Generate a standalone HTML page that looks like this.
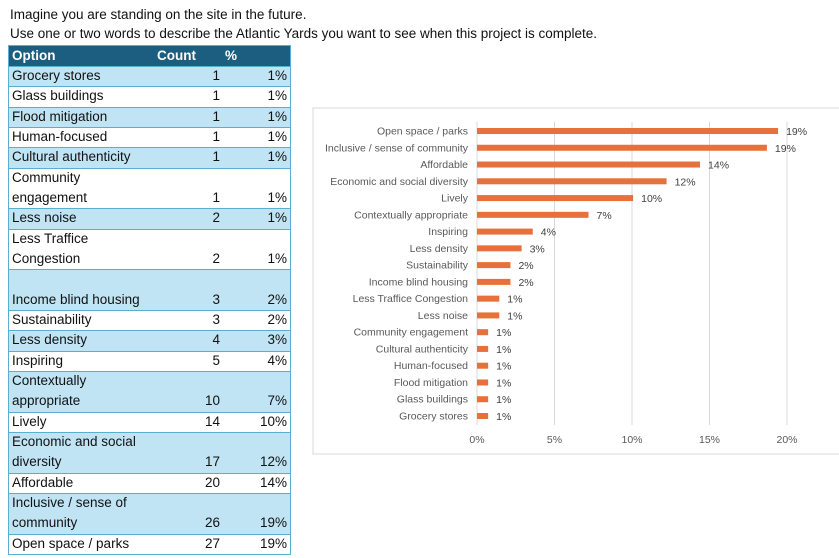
<!DOCTYPE html>
<html><head><meta charset="utf-8">
<style>
body{margin:0;width:839px;height:558px;background:#fff;font-family:"Liberation Sans",sans-serif;position:relative;overflow:hidden}
.t{position:absolute;left:10px;font-size:13.5px;color:#111}
#tbl{position:absolute;left:8px;top:45px;width:283px;border:1px solid #5aaed2;box-sizing:border-box}
.row{position:relative;border-top:1px solid #5aaed2;box-sizing:border-box;font-size:13.5px;color:#111}
.row span{position:absolute;bottom:0;line-height:20.33px}
.hdr{background:#1b5e80;color:#fff;font-weight:bold;height:20px;border-top:none}
.hdr span{line-height:20px}
.b{background:#c0e4f4}.w{background:#fff}
.lab{left:3px}
.cnt{right:70px}.pct{right:3px}
</style></head><body>
<div class="t" style="top:7px">Imagine you are standing on the site in the future.</div>
<div class="t" style="top:26px">Use one or two words to describe the Atlantic Yards you want to see when this project is complete.</div>
<div id="tbl">
<div class="row hdr"><span style="left:3px">Option</span><span style="left:148px">Count</span><span style="left:216px">%</span></div>
</div>
<svg id="chart" style="position:absolute;left:0;top:0" width="839" height="558">
<rect x="313" y="108" width="530" height="346" fill="#fff" stroke="#d9d9d9"/>
</svg>
<script>
const categories=["Grocery stores","Glass buildings","Flood mitigation","Human-focused","Cultural authenticity","Community engagement","Less noise","Less Traffice Congestion","Income blind housing","Sustainability","Less density","Inspiring","Contextually appropriate","Lively","Economic and social diversity","Affordable","Inclusive / sense of community","Open space / parks"];
const tableLabels=[["Grocery stores"],["Glass buildings"],["Flood mitigation"],["Human-focused"],["Cultural authenticity"],["Community","engagement"],["Less noise"],["Less Traffice","Congestion"],["","Income blind housing"],["Sustainability"],["Less density"],["Inspiring"],["Contextually","appropriate"],["Lively"],["Economic and social","diversity"],["Affordable"],["Inclusive / sense of","community"],["Open space / parks"]];
const counts=[1,1,1,1,1,1,2,2,3,3,4,5,10,14,17,20,26,27];
const total=139;
const ticks=[0,5,10,15,20];
const NS="http://www.w3.org/2000/svg";
const tbl=document.getElementById('tbl');
counts.forEach((c,i)=>{
  const lines=tableLabels[i];
  const r=document.createElement('div');
  
  
  r.className='row '+(i%2===0?'b':'w');
  r.style.height=(lines.length*20.33)+'px';
  const l=document.createElement('span');l.className='lab';l.innerHTML=lines.join('<br>');
  
  
  const cc=document.createElement('span');cc.className='cnt';cc.textContent=c;
  
  
  const p=document.createElement('span');p.className='pct';p.textContent=Math.round(c/total*100)+'%';
  
  
  r.append(l,cc,p);tbl.appendChild(r);
});
const svg=document.getElementById('chart');
const x0=477,pxPer=15.5;
const xs=v=>x0+v*pxPer;
const yTop=131,step=(416-131)/17;
const ys=i=>yTop+(categories.length-1-i)*step;
function mk(tag,attrs,txt){const e=document.createElementNS(NS,tag);for(const k in attrs)e.setAttribute(k,attrs[k]);if(txt!==undefined)e.textContent=txt;svg.appendChild(e);return e;}
ticks.forEach(t=>{
  const g=mk('line',{x1:xs(t),x2:xs(t),y1:122,y2:425,stroke:'#d9d9d9','stroke-width':1});
  
  
  const tl=mk('text',{x:xs(t),y:443,'font-size':'10.5px',fill:'#595959','text-anchor':'middle'},t+'%');
  
  
});
categories.forEach((c,i)=>{
  const v=counts[i]/total*100,y=ys(i);
  const b=mk('rect',{x:x0,y:y-3,width:xs(v)-x0,height:6,fill:'#e8703a'});
  
  
  const l=mk('text',{x:468,y:y+3.5,'font-size':'10.5px',fill:'#595959','text-anchor':'end'},c);
  
  
  const d=mk('text',{x:xs(v)+8,y:y+4,'font-size':'10.5px',fill:'#404040'},Math.round(v)+'%');
  
  
});
</script>
</body></html>
